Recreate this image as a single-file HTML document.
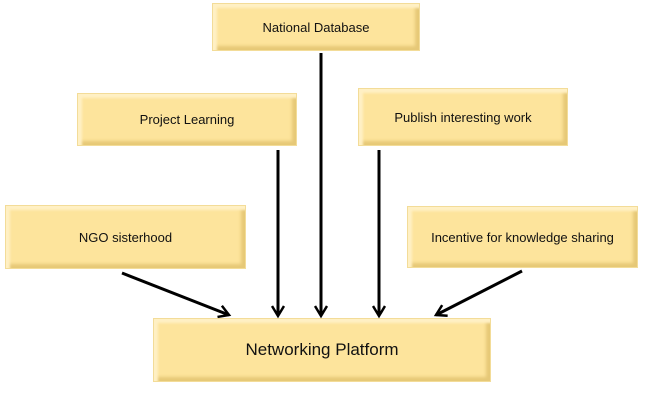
<!DOCTYPE html>
<html><head><style>
body{margin:0;width:668px;height:414px;background:#fff;position:relative;overflow:hidden;font-family:"Liberation Sans",sans-serif}
.b{position:absolute;box-sizing:border-box;background:#fde49c;border:1px solid #f3dc98;
box-shadow:inset 4px 4px 2px #fff0c4,inset -4px -4px 3px #e6c877;display:flex;align-items:center;justify-content:center;font-size:13px;color:#111}
svg{position:absolute;left:0;top:0}
</style></head><body>
<div class="b" style="left:212px;top:3px;width:208px;height:48px">National Database</div>
<div class="b" style="left:77px;top:93px;width:220px;height:53px">Project Learning</div>
<div class="b" style="left:358px;top:88px;width:210px;height:58px">Publish interesting work</div>
<div class="b" style="left:5px;top:205px;width:241px;height:64px">NGO sisterhood</div>
<div class="b" style="left:407px;top:206px;width:231px;height:62px">Incentive for knowledge sharing</div>
<div class="b" style="left:153px;top:318px;width:338px;height:64px;font-size:17px">Networking Platform</div>
<svg width="668" height="414">
<defs><marker id="a" markerWidth="14" markerHeight="14" refX="11" refY="7" orient="auto" markerUnits="userSpaceOnUse"><path d="M1,1 L11,7 L1,13" fill="none" stroke="#000" stroke-width="2.5"/></marker></defs>
<g stroke="#000" stroke-width="3" marker-end="url(#a)">
<line x1="321" y1="53" x2="321" y2="316"/>
<line x1="278" y1="150" x2="278" y2="316"/>
<line x1="379" y1="150" x2="379" y2="316"/>
<line x1="122" y1="273" x2="229" y2="315"/>
<line x1="522" y1="271" x2="436" y2="315"/>
</g></svg>
</body></html>
